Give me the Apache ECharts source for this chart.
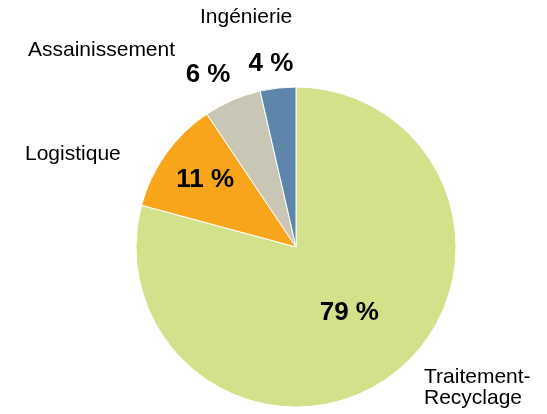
<!DOCTYPE html>
<html>
<head>
<meta charset="utf-8">
<script src="https://cdn.jsdelivr.net/npm/echarts@6/dist/echarts.min.js"></script>
<style>
  html, body { margin: 0; padding: 0; background: #fff; }
  #chart { width: 547px; height: 414px; }
</style>
</head>
<body>
<div id="chart"></div>
<script>
// données
const categories = ['Traitement-\nRecyclage', 'Logistique', 'Assainissement', 'Ingénierie'];
const shares = [79.2, 11.4, 5.8, 3.6];
const colors = ['#D3E18A', '#F8A51B', '#CAC6B6', '#5E86AB'];

// mise en page
const center = [296, 247];
const radius = 160;
const pctDist = [85, 113, 193, 185];          // distance radiale des pourcentages
const pctNudge = [-1.4, 0.8, -3.7, -1.3];     // décalage angulaire (degrés)
const namePos = [[424, 388], [25, 154], [28, 50], [200, 17]]; // coin gauche / milieu des noms

const total = shares.reduce((a, b) => a + b, 0);
const midAngle = (i) => {
    let s = 0;
    for (let k = 0; k < i; k++) s += shares[k];
    return (s + shares[i] / 2) / total * Math.PI * 2 + pctNudge[i] * Math.PI / 180;
};

const pieData = categories.map((name, i) => ({
    name: name,
    value: shares[i],
    itemStyle: { color: colors[i] }
}));

const chart = echarts.init(document.getElementById('chart'));
chart.setOption({
    animation: false,
    series: [
        {
            type: 'pie',
            center: center,
            radius: radius,
            startAngle: 90,
            clockwise: true,
            avoidLabelOverlap: false,
            itemStyle: { borderColor: '#fff', borderWidth: 1 },
            label: {
                show: true,
                formatter: (p) => Math.round(p.value) + ' %',
                fontFamily: 'Liberation Sans, Arial, sans-serif',
                fontWeight: 'bold',
                fontSize: 26,
                color: '#000'
            },
            labelLine: { show: false },
            labelLayout: (p) => {
                const a = midAngle(p.dataIndex);
                const d = pctDist[p.dataIndex];
                return {
                    x: center[0] + d * Math.sin(a),
                    y: center[1] - d * Math.cos(a),
                    align: 'center',
                    verticalAlign: 'middle'
                };
            },
            emphasis: { disabled: true },
            data: pieData
        },
        {
            type: 'pie',
            center: center,
            radius: radius,
            startAngle: 90,
            clockwise: true,
            silent: true,
            avoidLabelOverlap: false,
            itemStyle: { color: 'transparent' },
            label: {
                show: true,
                formatter: '{b}',
                fontFamily: 'Liberation Sans, Arial, sans-serif',
                fontSize: 21,
                lineHeight: 21,
                color: '#000'
            },
            labelLine: { show: false },
            labelLayout: (p) => ({
                x: namePos[p.dataIndex][0],
                y: namePos[p.dataIndex][1],
                align: 'left',
                verticalAlign: 'middle'
            }),
            data: categories.map((name, i) => ({ name: name, value: shares[i], itemStyle: { color: 'transparent' } }))
        }
    ]
});
</script>
</body>
</html>
